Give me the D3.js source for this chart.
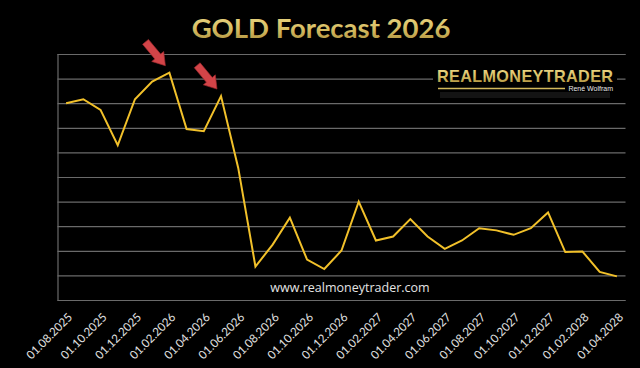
<!DOCTYPE html>
<html>
<head>
<meta charset="utf-8">
<script src="https://cdn.jsdelivr.net/npm/d3@7"></script>
<style>
  html, body { margin: 0; padding: 0; background: #000; }
  svg { display: block; }
</style>
</head>
<body>
<div id="chart"></div>
<script>
// monthly forecast points, Aug 2025 .. Apr 2028 (no y scale shown, values in gridline units)
const months = [
  '08.2025', '09.2025', '10.2025', '11.2025', '12.2025',
  '01.2026', '02.2026', '03.2026', '04.2026', '05.2026', '06.2026', '07.2026',
  '08.2026', '09.2026', '10.2026', '11.2026', '12.2026',
  '01.2027', '02.2027', '03.2027', '04.2027', '05.2027', '06.2027', '07.2027',
  '08.2027', '09.2027', '10.2027', '11.2027', '12.2027',
  '01.2028', '02.2028', '03.2028', '04.2028'
];
const values = [
  80.0, 81.6, 77.3, 62.9, 81.6,
  88.8, 92.4, 69.5, 68.6, 82.9, 53.7, 13.6,
  22.5, 33.5, 16.4, 12.6, 20.1,
  40.0, 24.2, 25.8, 32.9, 25.8, 20.8, 24.2,
  29.2, 28.3, 26.5, 29.2, 35.6,
  19.5, 19.7, 11.4, 9.6
];
const tickMonths = months.filter((m, i) => i % 2 === 0);
const gridValues = [0, 10, 20, 30, 40, 50, 60, 70, 80, 90, 100];
const arrowMonths = ['02.2026', '05.2026'];

const width = 640;
const height = 368;
const margin = { top: 54, right: 14.5, bottom: 68, left: 57.5 };

const svg = d3.select('#chart')
  .append('svg')
  .attr('width', width)
  .attr('height', height);

svg.append('rect').attr('width', width).attr('height', height).attr('fill', '#000');

const defs = svg.append('defs');
const gold = defs.append('linearGradient')
  .attr('id', 'gold').attr('x1', 0).attr('y1', 0).attr('x2', 0).attr('y2', 1);
gold.append('stop').attr('offset', '0%').attr('stop-color', '#efdc8c');
gold.append('stop').attr('offset', '55%').attr('stop-color', '#d6bd62');
gold.append('stop').attr('offset', '100%').attr('stop-color', '#a88a38');

const x = d3.scaleBand()
  .domain(months)
  .range([margin.left, width - margin.right]);

const y = d3.scaleLinear()
  .domain([0, 100])
  .range([height - margin.bottom, margin.top]);

// gridlines
svg.append('g')
  .attr('transform', `translate(${margin.left},0)`)
  .call(d3.axisLeft(y).tickValues(gridValues).tickSize(-(width - margin.left - margin.right)).tickFormat(''))
  .call(g => g.selectAll('.tick line').attr('stroke', '#6a6a6a').attr('stroke-width', 1.2))
  .call(g => g.select('.domain').attr('stroke', '#6a6a6a').attr('stroke-width', 1.2));

// x axis labels
svg.append('g')
  .attr('transform', `translate(0,${height - margin.bottom})`)
  .call(d3.axisBottom(x)
    .tickValues(tickMonths)
    .tickSize(0)
    .tickFormat(m => '01.' + m))
  .call(g => g.select('.domain').remove())
  .call(g => g.selectAll('text')
    .attr('fill', '#e2e2e2')
    .attr('font-family', 'Lato, "Open Sans", sans-serif')
    .attr('font-size', 11.6)
    .attr('text-anchor', 'end')
    .attr('dy', 0)
    .attr('y', 0)
    .attr('transform', 'translate(7,18) rotate(-45)'));

// line
const line = d3.line()
  .x((d, i) => x(months[i]) + x.bandwidth() / 2)
  .y(d => y(d));

svg.append('path')
  .datum(values)
  .attr('fill', 'none')
  .attr('stroke', '#f2c12a')
  .attr('stroke-width', 2)
  .attr('stroke-linejoin', 'miter')
  .attr('d', line);

// red arrows pointing at the two tops
const ang = Math.atan2(24, 20);
arrowMonths.forEach(m => {
  const i = months.indexOf(m);
  const tx = x(m) + x.bandwidth() / 2 - 4;
  const ty = y(values[i]) - 7;
  const len = 31, head = 12, sw = 3.8, hw = 7.8;
  const pts = [
    [0, 0], [-head, -hw], [-head, -sw], [-len, -sw], [-len, sw], [-head, sw], [-head, hw]
  ];
  svg.append('polygon')
    .attr('points', pts.map(p => p.join(',')).join(' '))
    .attr('transform', `translate(${tx},${ty}) rotate(${ang * 180 / Math.PI})`)
    .attr('fill', '#d24448')
    .attr('stroke', '#a02a2e')
    .attr('stroke-width', 0.6);
});

// title
svg.append('text')
  .attr('x', 321)
  .attr('y', 38)
  .attr('text-anchor', 'middle')
  .attr('font-family', 'Lato, sans-serif')
  .attr('font-weight', 700)
  .attr('font-size', 27.5)
  .attr('fill', 'url(#gold)')
  .text('GOLD Forecast 2026');

// logo
const logo = svg.append('g');
logo.append('rect')
  .attr('x', 433).attr('y', 60).attr('width', 184).attr('height', 38)
  .attr('fill', '#000');
logo.append('rect')
  .attr('x', 440).attr('y', 92).attr('width', 170).attr('height', 6)
  .attr('fill', '#141414');
logo.append('text')
  .attr('x', 437).attr('y', 82)
  .attr('font-family', '"Liberation Sans", Arial, sans-serif')
  .attr('font-weight', 700)
  .attr('font-size', 16.2)
  .attr('fill', 'url(#gold)')
  .attr('textLength', 176)
  .text('REALMONEYTRADER');
logo.append('line')
  .attr('x1', 438).attr('x2', 565).attr('y1', 88.5).attr('y2', 88.5)
  .attr('stroke', '#d2b85c').attr('stroke-width', 1.6);
logo.append('text')
  .attr('x', 613).attr('y', 91)
  .attr('text-anchor', 'end')
  .attr('font-family', '"Liberation Sans", Arial, sans-serif')
  .attr('font-size', 7)
  .attr('fill', '#e6e6e6')
  .text('René Wolfram');

// website
svg.append('text')
  .attr('x', 350)
  .attr('y', 292)
  .attr('text-anchor', 'middle')
  .attr('font-family', '"Open Sans", sans-serif')
  .attr('font-size', 12.5)
  .attr('fill', '#e4e4e4')
  .text('www.realmoneytrader.com');
</script>
</body>
</html>
